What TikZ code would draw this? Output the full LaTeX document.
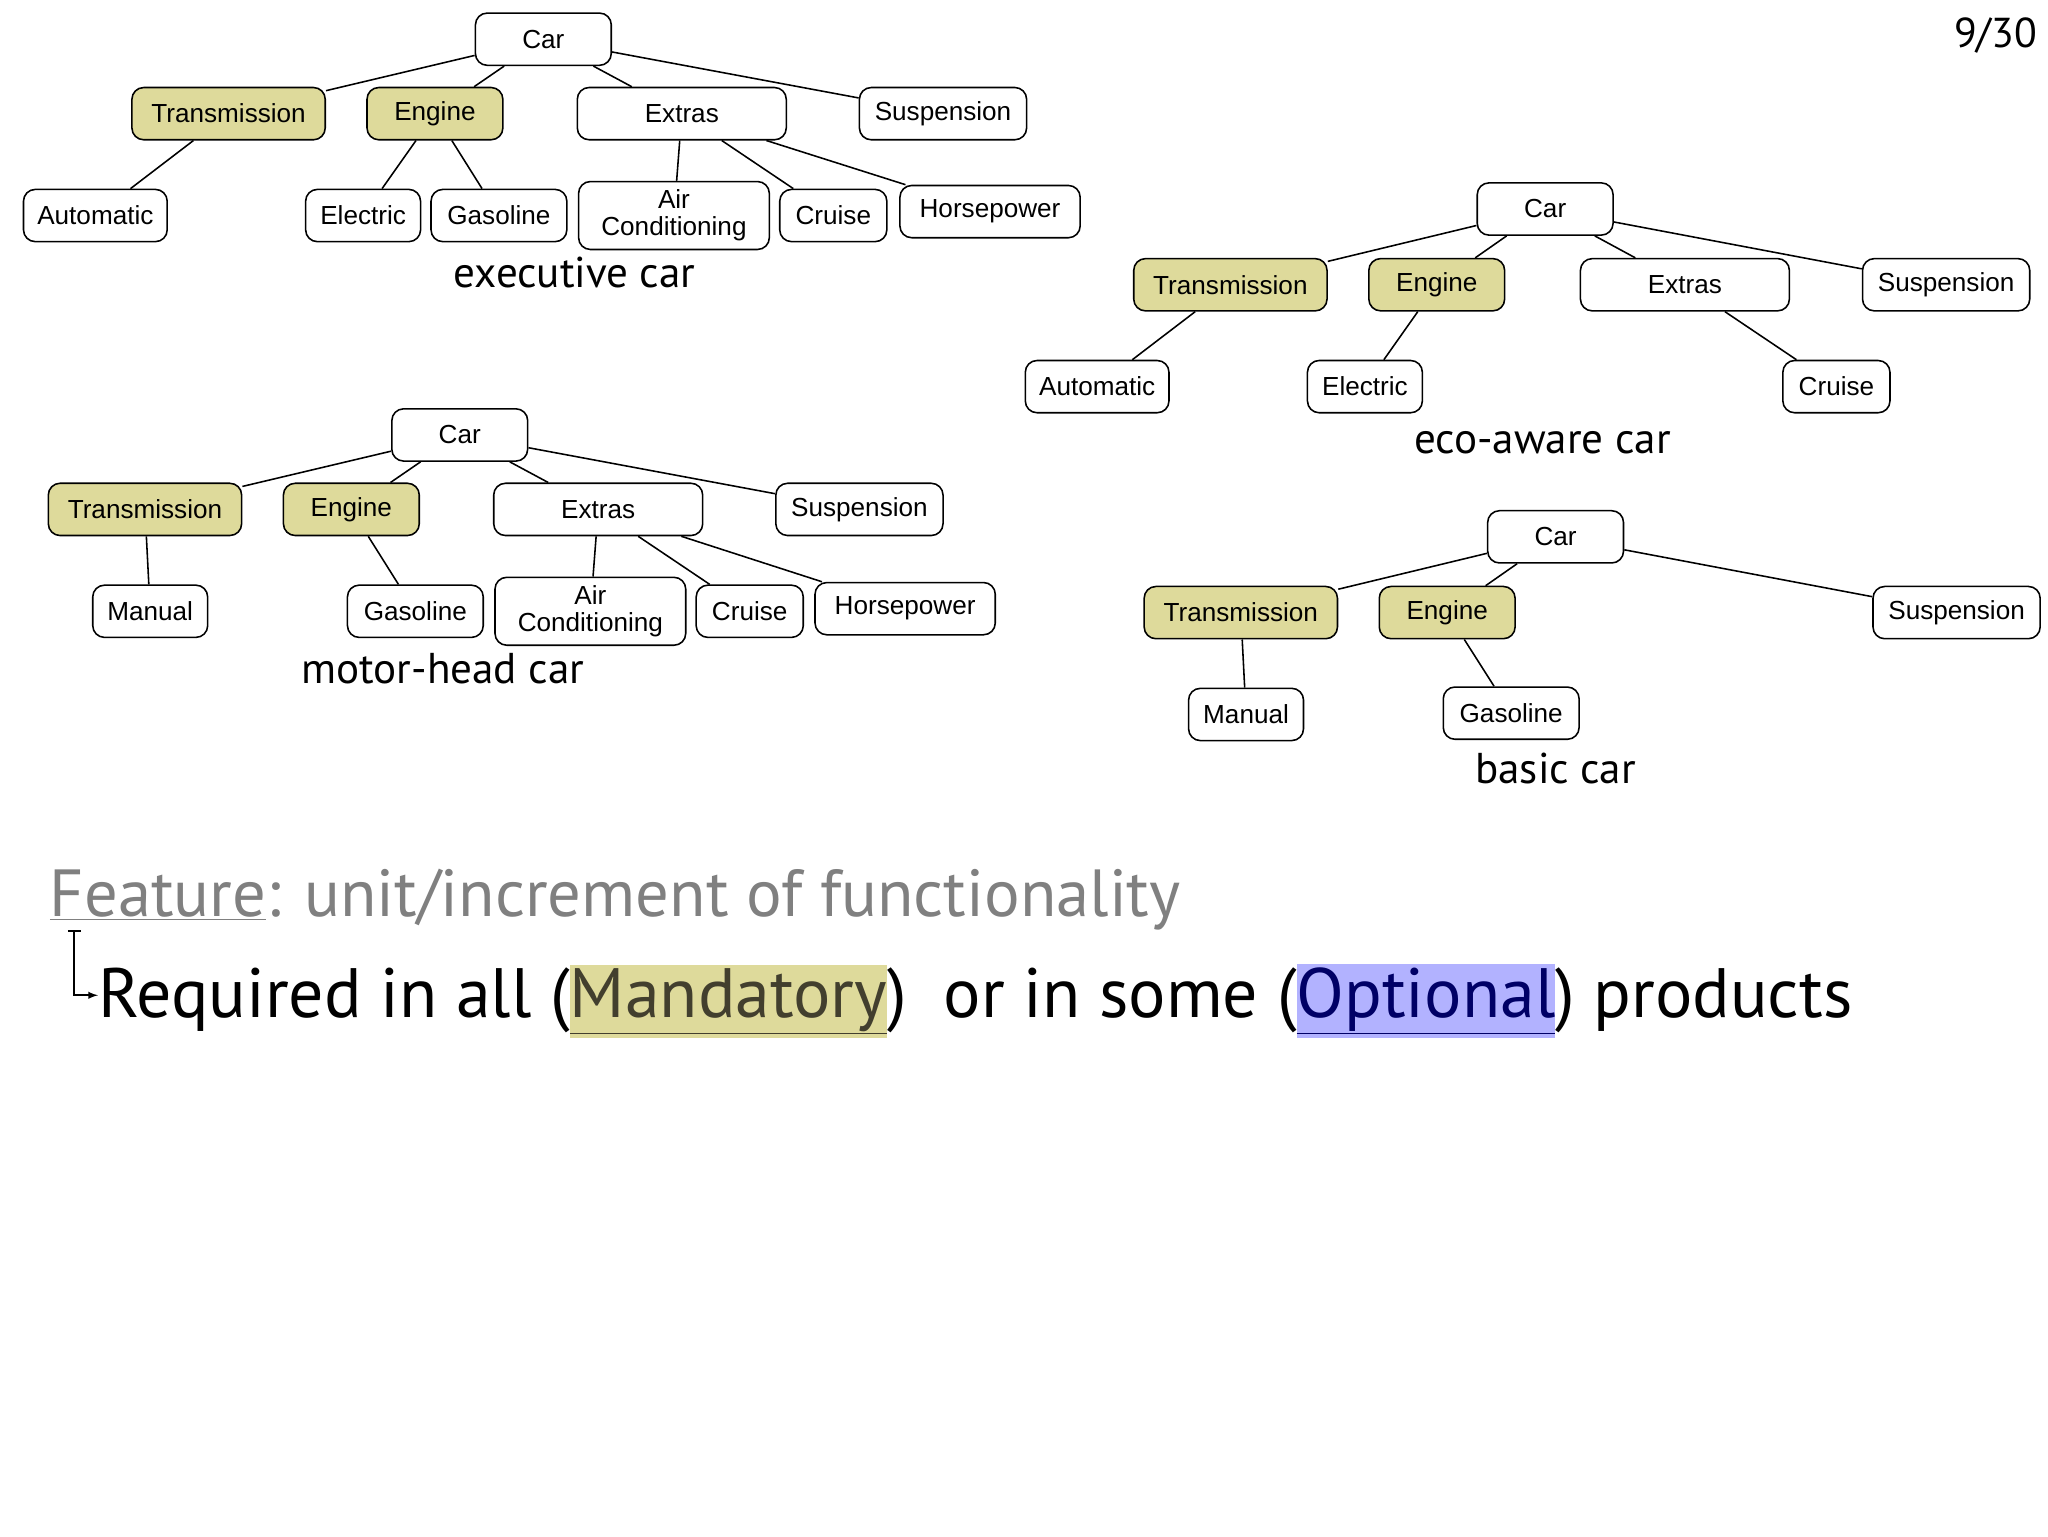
\documentclass[tikz,border=0pt]{standalone}
\usepackage{fontspec}
\setmainfont{Liberation Sans}
\newfontfamily\gill{PT Sans}
\begin{document}
\begin{tikzpicture}[x=1pt,y=-1pt,
  f/.style={draw,rounded corners=9pt,minimum height=40pt,inner sep=0pt,fill=white,line width=1.2pt,font=\fontsize{20}{22}\selectfont,align=center},
  m/.style={f,fill=olive!30!white,draw=black},
  lab/.style={font=\gill\fontsize{33}{35}\selectfont},
  e/.style={line width=1.2pt}]
\useasboundingbox (0,0) rectangle (1568,1176);
\fill[white] (0,0) rectangle (1568,1176);
\node[font=\gill\fontsize{32}{34}\selectfont] (pg) at (1528,27) {9/30};
% executive
\node[f,minimum width=104pt] (c1) at (416,30) {Car};
\node[m,minimum width=148pt] (t1) at (175,87) {Transmission};
\node[m,minimum width=104pt] (en1) at (333,87) {Engine};
\node[f,minimum width=160pt] (x1) at (522,87) {Extras};
\node[f,minimum width=128pt] (s1) at (722,87) {Suspension};
\node[f,minimum width=110pt] (a1) at (73,165) {Automatic};
\node[f,minimum width=88pt] (el1) at (278,165) {Electric};
\node[f,minimum width=104pt] (g1) at (382,165) {Gasoline};
\node[f,minimum width=146pt,minimum height=52pt] (ac1) at (516,165) {Air\\[-1pt]Conditioning};
\node[f,minimum width=82pt] (cr1) at (638,165) {Cruise};
\node[f,minimum width=138pt] (h1) at (758,162) {Horsepower};
\node[lab] (l1) at (440,209) {executive car};
\foreach \a/\b in {c1/t1,c1/en1,c1/x1,c1/s1,t1/a1,en1/el1,en1/g1,x1/ac1,x1/cr1,x1/h1} \draw[e] (\a)--(\b);
% eco
\node[f,minimum width=104pt] (c2) at (1183,160) {Car};
\node[m,minimum width=148pt] (t2) at (942,218) {Transmission};
\node[m,minimum width=104pt] (en2) at (1100,218) {Engine};
\node[f,minimum width=160pt] (x2) at (1290,218) {Extras};
\node[f,minimum width=128pt] (s2) at (1490,218) {Suspension};
\node[f,minimum width=110pt] (a2) at (840,296) {Automatic};
\node[f,minimum width=88pt] (el2) at (1045,296) {Electric};
\node[f,minimum width=82pt] (cr2) at (1406,296) {Cruise};
\node[lab] (l2) at (1181,339) {eco-aware car};
\foreach \a/\b in {c2/t2,c2/en2,c2/x2,c2/s2,t2/a2,en2/el2,x2/cr2} \draw[e] (\a)--(\b);
% motor-head
\node[f,minimum width=104pt] (c3) at (352,333) {Car};
\node[m,minimum width=148pt] (t3) at (111,390) {Transmission};
\node[m,minimum width=104pt] (en3) at (269,390) {Engine};
\node[f,minimum width=160pt] (x3) at (458,390) {Extras};
\node[f,minimum width=128pt] (s3) at (658,390) {Suspension};
\node[f,minimum width=88pt] (mn3) at (115,468) {Manual};
\node[f,minimum width=104pt] (g3) at (318,468) {Gasoline};
\node[f,minimum width=146pt,minimum height=52pt] (ac3) at (452,468) {Air\\[-1pt]Conditioning};
\node[f,minimum width=82pt] (cr3) at (574,468) {Cruise};
\node[f,minimum width=138pt] (h3) at (693,466) {Horsepower};
\node[lab] (l3) at (339,512) {motor-head car};
\foreach \a/\b in {c3/t3,c3/en3,c3/x3,c3/s3,t3/mn3,en3/g3,x3/ac3,x3/cr3,x3/h3} \draw[e] (\a)--(\b);
% basic
\node[f,minimum width=104pt] (c4) at (1191,411) {Car};
\node[m,minimum width=148pt] (t4) at (950,469) {Transmission};
\node[m,minimum width=104pt] (en4) at (1108,469) {Engine};
\node[f,minimum width=128pt] (s4) at (1498,469) {Suspension};
\node[f,minimum width=88pt] (mn4) at (954,547) {Manual};
\node[f,minimum width=104pt] (g4) at (1157,546) {Gasoline};
\node[lab] (l4) at (1191,588) {basic car};
\foreach \a/\b in {c4/t4,c4/en4,c4/s4,t4/mn4,en4/g4} \draw[e] (\a)--(\b);
% bottom text
\node[anchor=base west,inner sep=0pt,text=black!50,font=\gill\fontsize{51}{54}\selectfont] (ft) at (38,702)
 {\underline{Feature}: unit/increment of functionality};
\node[anchor=base west,inner sep=0pt,font=\gill\fontsize{53.5}{56}\selectfont] (rq) at (75,779)
 {Required in all (\colorbox{olive!30!white}{\hspace{-3pt}\textcolor{black!70!olive}{\underline{Mandatory}}\hspace{-3pt}})\ \ or in some (\colorbox{blue!30!white}{\hspace{-3pt}\textcolor{blue!40!black}{\underline{Optional}}\hspace{-3pt}}) products};
\coordinate (ar0) at (57,713);
\coordinate (ar1) at (75,762);
\draw[line width=1.5pt] (52,713)--(62,713);
\draw[line width=1.5pt,-latex] (ar0) |- (ar1);
\end{tikzpicture}
\end{document}
